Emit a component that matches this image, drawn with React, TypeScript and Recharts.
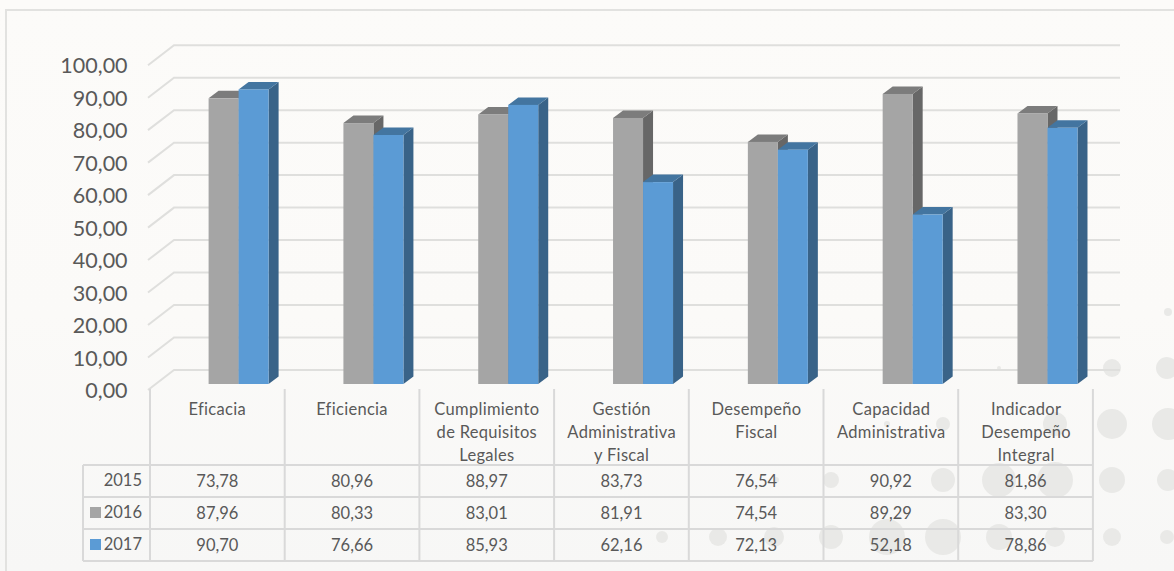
import { Bar, CartesianGrid, ComposedChart, Customized, XAxis, YAxis } from "recharts"

const categoryLines = [
  ["Eficacia"],
  ["Eficiencia"],
  ["Cumplimiento", "de Requisitos", "Legales"],
  ["Gestión", "Administrativa", "y Fiscal"],
  ["Desempeño", "Fiscal"],
  ["Capacidad", "Administrativa"],
  ["Indicador", "Desempeño", "Integral"],
]
const values2015 = [73.78, 80.96, 88.97, 83.73, 76.54, 90.92, 81.86]
const values2016 = [87.96, 80.33, 83.01, 81.91, 74.54, 89.29, 83.3]
const values2017 = [90.7, 76.66, 85.93, 62.16, 72.13, 52.18, 78.86]
const yTicks = [0, 10, 20, 30, 40, 50, 60, 70, 80, 90, 100]

// background decoration: [cx, cy, r]
const dots = [
  [1168, 312, 4], [1112, 368, 9], [1167, 368, 11], [999, 368, 2],
  [1112, 424, 15], [1168, 424, 16], [1055, 424, 12], [943, 424, 7], [887, 424, 3],
  [1112, 480, 13], [1168, 480, 11], [1055, 480, 18], [999, 480, 17], [943, 480, 12], [831, 480, 8], [776, 480, 3],
  [1112, 537, 9], [1167, 537, 7], [1055, 537, 10], [999, 537, 13], [943, 537, 18], [887, 537, 18], [831, 537, 12],
  [774, 537, 10], [718, 537, 9], [662, 537, 6],
]

const data = categoryLines.map((lines, i) => ({
  name: lines.join(" "),
  y2015: values2015[i],
  y2016: values2016[i],
  y2017: values2017[i],
}))

const FONT = "Lato, sans-serif"
const TEXT = "#595959"
const LINE = "#d9d9d9"
const fmt = (v: number) => v.toFixed(2).replace(".", ",")

// table layout
const tableLeft = 83
const colLeft = 150
const colWidth = 134.7
const rowYs = [465, 497, 529, 561]
const headerTop = 389

function Box3D({ x, y, width, height, front, top, side }: any) {
  const dx = 10
  const dy = 7.5
  return (
    <g>
      <path d={`M${x + width},${y} l${dx},${-dy} v${height} l${-dx},${dy} z`} fill={side} />
      <path d={`M${x},${y} l${dx},${-dy} h${width} l${-dx},${dy} z`} fill={top} />
      <rect x={x} y={y} width={width} height={height} fill={front} />
    </g>
  )
}

// gridline on the back wall, with its return along the side wall
function WallLine({ x1, y1 }: any) {
  return (
    <path
      d={`M${x1 - 8.6},${y1 + 6} L${x1 + 17.4},${y1 - 14} H1120`}
      fill="none"
      stroke="#dfdfdd"
      strokeWidth={2}
    />
  )
}

function CategoryTick({ x, y, payload }: any) {
  const lines = categoryLines[payload.index] ?? []
  return (
    <g>
      {lines.map((line, i) => (
        <text
          key={line}
          x={x - 6.8}
          y={y + 30.5 + i * 23}
          textAnchor="middle"
          fontFamily={FONT}
          fontSize={16.5}
          letterSpacing={0.3}
          fill={TEXT}
        >
          {line}
        </text>
      ))}
    </g>
  )
}

function ValueTick({ x, y, payload }: any) {
  return (
    <text x={x - 1} y={y + 14} textAnchor="end" fontFamily={FONT} fontSize={21.5} fill={TEXT}>
      {fmt(payload.value)}
    </text>
  )
}

function DataTable() {
  const right = colLeft + colWidth * 7
  const rows = [
    { label: "2015", values: values2015, color: null },
    { label: "2016", values: values2016, color: "#a5a5a5" },
    { label: "2017", values: values2017, color: "#5b9bd5" },
  ]
  return (
    <g fontFamily={FONT} fill={TEXT}>
      {rowYs.map((y) => (
        <line key={y} x1={tableLeft} x2={right} y1={y} y2={y} stroke={LINE} strokeWidth={2} />
      ))}
      <line x1={tableLeft} x2={tableLeft} y1={rowYs[0]} y2={rowYs[3]} stroke={LINE} strokeWidth={2} />
      {categoryLines.concat([[]]).map((_, i) => (
        <line
          key={i}
          x1={colLeft + colWidth * i}
          x2={colLeft + colWidth * i}
          y1={headerTop}
          y2={rowYs[3]}
          stroke={LINE}
          strokeWidth={2}
        />
      ))}
      {rows.map((row, r) => (
        <g key={row.label}>
          {row.color && <rect x={90} y={rowYs[r] + 10} width={11} height={11} fill={row.color} />}
          <text x={142} y={rowYs[r] + 21} textAnchor="end" fontSize={16.5}>
            {row.label}
          </text>
          {row.values.map((v, i) => (
            <text
              key={i}
              x={colLeft + colWidth * (i + 0.5)}
              y={rowYs[r] + 21.5}
              textAnchor="middle"
              fontSize={16.5}
            >
              {fmt(v)}
            </text>
          ))}
        </g>
      ))}
    </g>
  )
}

export default function App() {
  return (
    <div
      style={{
        position: "absolute",
        left: 0,
        top: 0,
        width: 1174,
        height: 571,
        overflow: "hidden",
        background: "linear-gradient(#fcfbf9, #fbfaf8 55%, #f7f7f6)",
      }}
    >
      <svg width={1174} height={571} style={{ position: "absolute", left: 0, top: 0 }}>
        {dots.map(([cx, cy, r], i) => (
          <circle key={i} cx={cx} cy={cy} r={r} fill="#e9e9e7" />
        ))}
        <path d="M6,571 V10 H1174" fill="none" stroke="#e2e2e0" strokeWidth={2} />
      </svg>
      <div style={{ position: "absolute", left: 0, top: 0 }}>
        <ComposedChart
          width={1174}
          height={571}
          data={data}
          margin={{ top: 59.2, right: 73.7, bottom: 87, left: 0 }}
          barSize={30}
          barGap={0}
        >
          <CartesianGrid vertical={false} horizontal={(props: any) => <WallLine key={props.y1} {...props} />} />
          <XAxis
            dataKey="name"
            interval={0}
            height={100}
            axisLine={false}
            tickLine={false}
            tickSize={0}
            tickMargin={0}
            tick={<CategoryTick />}
          />
          <YAxis
            width={156.6}
            domain={[0, 100]}
            ticks={yTicks}
            interval={0}
            axisLine={false}
            tickLine={false}
            tick={<ValueTick />}
            tickSize={0}
            tickMargin={28}
          />
          <Bar dataKey="y2015" isAnimationActive={false} shape={() => <g />} />
          <Bar
            dataKey="y2016"
            isAnimationActive={false}
            fill="#a5a5a5"
            shape={(p: any) => <Box3D {...p} front="#a5a5a5" top="#7c7c7c" side="#676767" />}
          />
          <Bar
            dataKey="y2017"
            isAnimationActive={false}
            fill="#5b9bd5"
            shape={(p: any) => <Box3D {...p} front="#5b9bd5" top="#4375a0" side="#396388" />}
          />
          <Customized component={DataTable} />
        </ComposedChart>
      </div>
    </div>
  )
}
